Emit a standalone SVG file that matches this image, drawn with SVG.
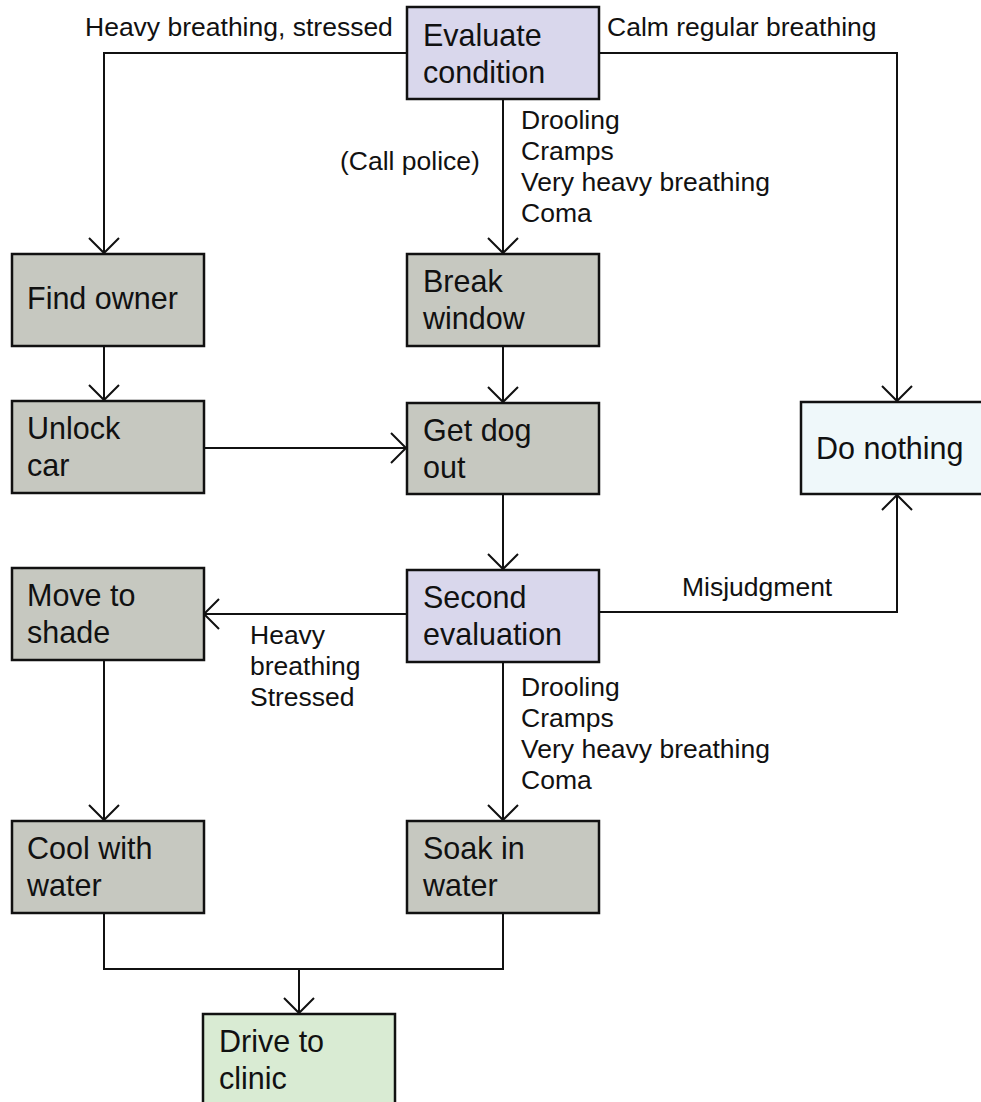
<svg xmlns="http://www.w3.org/2000/svg" width="981" height="1102" viewBox="0 0 981 1102">
<defs>
<style>
.box{stroke:#111;stroke-width:2.5}
.purple{fill:#d9d7ec}
.gray{fill:#c6c8c0}
.blue{fill:#eff8fa}
.green{fill:#d9ebd3}
.nt{font-family:"Liberation Sans",Arial,sans-serif;font-size:30.5px;fill:#111}
.lt{font-family:"Liberation Sans",Arial,sans-serif;font-size:26.5px;fill:#111}
.cn{fill:none;stroke:#111;stroke-width:2}
</style>
<marker id="arr" markerUnits="userSpaceOnUse" markerWidth="40" markerHeight="40" refX="0" refY="0" viewBox="-20 -20 40 40" orient="auto" overflow="visible">
<path d="M -15 -15 L 0 0 L -15 15" fill="none" stroke="#111" stroke-width="2"/>
</marker>
</defs>
<rect width="981" height="1102" fill="#fff"/>
<g id="connectors">
<polyline class="cn" points="407,53 104,53 104,253" marker-end="url(#arr)"/>
<polyline class="cn" points="599,53 897,53 897,401" marker-end="url(#arr)"/>
<line class="cn" x1="503" y1="99" x2="503" y2="253" marker-end="url(#arr)"/>
<line class="cn" x1="104" y1="346" x2="104" y2="400" marker-end="url(#arr)"/>
<line class="cn" x1="503" y1="346" x2="503" y2="402" marker-end="url(#arr)"/>
<line class="cn" x1="204" y1="448" x2="406" y2="448" marker-end="url(#arr)"/>
<line class="cn" x1="503" y1="494" x2="503" y2="569" marker-end="url(#arr)"/>
<line class="cn" x1="407" y1="614" x2="204" y2="614" marker-end="url(#arr)"/>
<polyline class="cn" points="599,612 897,612 897,495" marker-end="url(#arr)"/>
<line class="cn" x1="104" y1="660" x2="104" y2="820" marker-end="url(#arr)"/>
<line class="cn" x1="503" y1="662" x2="503" y2="820" marker-end="url(#arr)"/>
<polyline class="cn" points="104,913 104,969 503,969 503,913"/>
<line class="cn" x1="299" y1="969" x2="299" y2="1013" marker-end="url(#arr)"/>
<text class="lt" x="85" y="36">Heavy breathing, stressed</text>
<text class="lt" x="607" y="36">Calm regular breathing</text>
<text class="lt" x="340" y="170">(Call police)</text>
<text class="lt" x="521" y="129">Drooling</text>
<text class="lt" x="521" y="160">Cramps</text>
<text class="lt" x="521" y="191">Very heavy breathing</text>
<text class="lt" x="521" y="222">Coma</text>
<text class="lt" x="682" y="596">Misjudgment</text>
<text class="lt" x="250" y="644">Heavy</text>
<text class="lt" x="250" y="675">breathing</text>
<text class="lt" x="250" y="706">Stressed</text>
<text class="lt" x="521" y="696">Drooling</text>
<text class="lt" x="521" y="727">Cramps</text>
<text class="lt" x="521" y="758">Very heavy breathing</text>
<text class="lt" x="521" y="789">Coma</text>
</g>
<g id="evaluate">
<rect class="box purple" x="407" y="7" width="192" height="92"/>
<text class="nt" x="423" y="46">Evaluate</text>
<text class="nt" x="423" y="83">condition</text>
</g>
<g id="find-owner">
<rect class="box gray" x="12" y="254" width="192" height="92"/>
<text class="nt" x="27" y="309">Find owner</text>
</g>
<g id="break-window">
<rect class="box gray" x="407" y="254" width="192" height="92"/>
<text class="nt" x="423" y="292">Break</text>
<text class="nt" x="423" y="329">window</text>
</g>
<g id="unlock-car">
<rect class="box gray" x="12" y="401" width="192" height="92"/>
<text class="nt" x="27" y="439">Unlock</text>
<text class="nt" x="27" y="476">car</text>
</g>
<g id="get-dog-out">
<rect class="box gray" x="407" y="403" width="192" height="91"/>
<text class="nt" x="423" y="441">Get dog</text>
<text class="nt" x="423" y="478">out</text>
</g>
<g id="do-nothing">
<rect class="box blue" x="801" y="402" width="194" height="92"/>
<text class="nt" x="816" y="459">Do nothing</text>
</g>
<g id="move-to-shade">
<rect class="box gray" x="12" y="568" width="192" height="92"/>
<text class="nt" x="27" y="606">Move to</text>
<text class="nt" x="27" y="643">shade</text>
</g>
<g id="second-evaluation">
<rect class="box purple" x="407" y="570" width="192" height="92"/>
<text class="nt" x="423" y="608">Second</text>
<text class="nt" x="423" y="645">evaluation</text>
</g>
<g id="cool-with-water">
<rect class="box gray" x="12" y="821" width="192" height="92"/>
<text class="nt" x="27" y="859">Cool with</text>
<text class="nt" x="27" y="896">water</text>
</g>
<g id="soak-in-water">
<rect class="box gray" x="407" y="821" width="192" height="92"/>
<text class="nt" x="423" y="859">Soak in</text>
<text class="nt" x="423" y="896">water</text>
</g>
<g id="drive-to-clinic">
<rect class="box green" x="203" y="1014" width="192" height="100"/>
<text class="nt" x="219" y="1052">Drive to</text>
<text class="nt" x="219" y="1089">clinic</text>
</g>
</svg>
